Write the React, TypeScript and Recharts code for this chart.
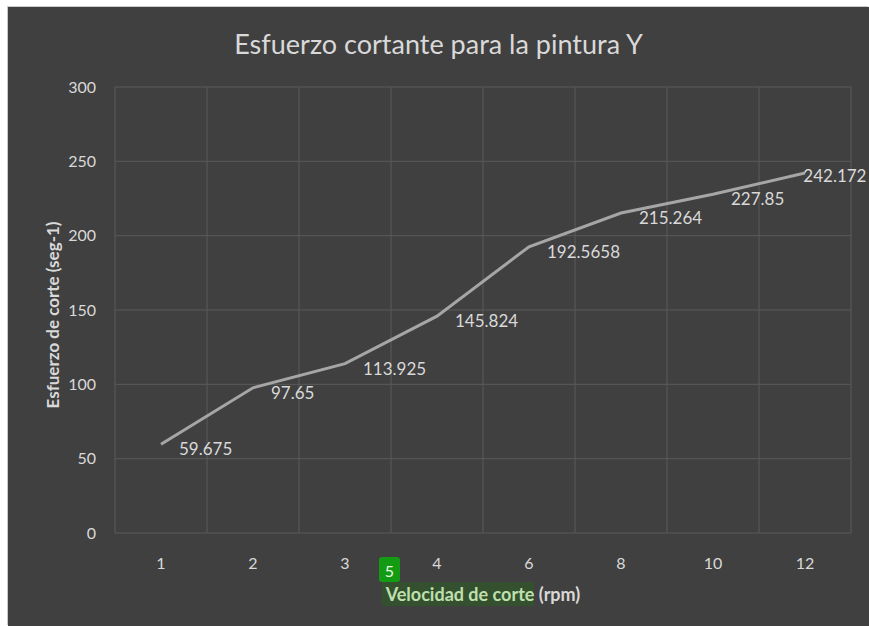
import { CartesianGrid, LineChart, Line, XAxis, YAxis, LabelList } from 'recharts';

const categories = ['1', '2', '3', '4', '6', '8', '10', '12'];
const esfuerzo = [59.675, 97.65, 113.925, 145.824, 192.5658, 215.264, 227.85, 242.172];
const yTicks = [0, 50, 100, 150, 200, 250, 300];
const gridTicks = [0, 1, 2, 3, 4, 5, 6, 7, 8];

const data = categories.map((rpm, i) => ({ rpm, idx: i, esfuerzo: esfuerzo[i] }));

const W = 861;
const H = 619;
const FONT = 'Lato, "Open Sans", sans-serif';
const TXT = '#d9d9d9';

// labels sit right-below the point; the last one is pushed back inside like Excel does
const PointLabel = (props: any) => {
  const { x, y, value } = props;
  const s = String(value);
  const w = s.length * 9.1;
  let lx = x + 18;
  let ly = y + 5;
  if (lx + w > W - 2) {
    lx = W - 2 - w;
    ly = y + 3;
  }
  return (
    <text x={lx} y={ly} dy="0.35em" fill={TXT} fontSize={17} fontFamily={FONT}>
      {s}
    </text>
  );
};

const XLabel = (props: any) => {
  const { viewBox } = props;
  const cx = viewBox.x + viewBox.width / 2;
  const top = viewBox.y;
  return (
    <g fontFamily={FONT}>
      <rect x={cx - 101} y={top + 49} width={152} height={24} fill="#34502f" />
      <rect x={cx - 104} y={top + 24} width={21} height={25} rx={3} fill="#139c13" />
      <text x={cx - 93.5} y={top + 38} dy="0.35em" textAnchor="middle" fill="#e8f5e0" fontSize={16}>
        5
      </text>
      <text x={cx} y={top + 62} dy="0.35em" textAnchor="middle" fontSize={18} fontWeight="bold">
        <tspan fill="#bfe0ad">Velocidad de corte</tspan>
        <tspan fill={TXT}> (rpm)</tspan>
      </text>
    </g>
  );
};

const YLabel = () => (
  <text
    x={45}
    y={308}
    transform="rotate(-90 45 308)"
    textAnchor="middle"
    dy="0.35em"
    fill={TXT}
    fontSize={17}
    fontWeight="bold"
    fontFamily={FONT}
  >
    Esfuerzo de corte (seg-1)
  </text>
);

export default function App() {
  return (
    <div style={{ position: 'absolute', left: 0, top: 0, width: 869, height: 626, background: '#ffffff' }}>
      <div
        style={{
          position: 'absolute',
          left: 8,
          top: 7,
          width: W,
          height: H,
          background: '#404040',
          boxShadow: '-1px -1px 0 #c9c9c9',
        }}
      >
        <div
          style={{
            position: 'absolute',
            top: 20,
            left: 0,
            width: W,
            textAlign: 'center',
            color: TXT,
            fontFamily: FONT,
            fontSize: 27,
          }}
        >
          Esfuerzo cortante para la pintura Y
        </div>
        <LineChart
          width={W}
          height={H}
          data={data}
          margin={{ top: 80, right: 18, left: 0, bottom: 0 }}
          style={{ position: 'absolute', top: 0, left: 0 }}
        >
          <XAxis
            xAxisId="grid"
            type="number"
            dataKey="idx"
            domain={[0, 8]}
            ticks={gridTicks}
            hide
          />
          <CartesianGrid xAxisId="grid" stroke="#5a5a5a" strokeWidth={1} />
          <XAxis
            dataKey="rpm"
            height={93}
            padding={{ left: 46, right: 46 }}
            axisLine={false}
            tickLine={false}
            tickMargin={19}
            tick={{ fill: TXT, fontSize: 16, fontFamily: FONT }}
            label={<XLabel />}
          />
          <YAxis
            width={107}
            domain={[0, 300]}
            ticks={yTicks}
            axisLine={false}
            tickLine={false}
            tickMargin={13}
            tick={{ fill: TXT, fontSize: 16, fontFamily: FONT }}
            label={<YLabel />}
          />
          <Line
            type="linear"
            dataKey="esfuerzo"
            stroke="#a6a6a6"
            strokeWidth={3}
            dot={false}
            activeDot={false}
            isAnimationActive={false}
          >
            <LabelList dataKey="esfuerzo" content={<PointLabel />} />
          </Line>
        </LineChart>
      </div>
    </div>
  );
}
